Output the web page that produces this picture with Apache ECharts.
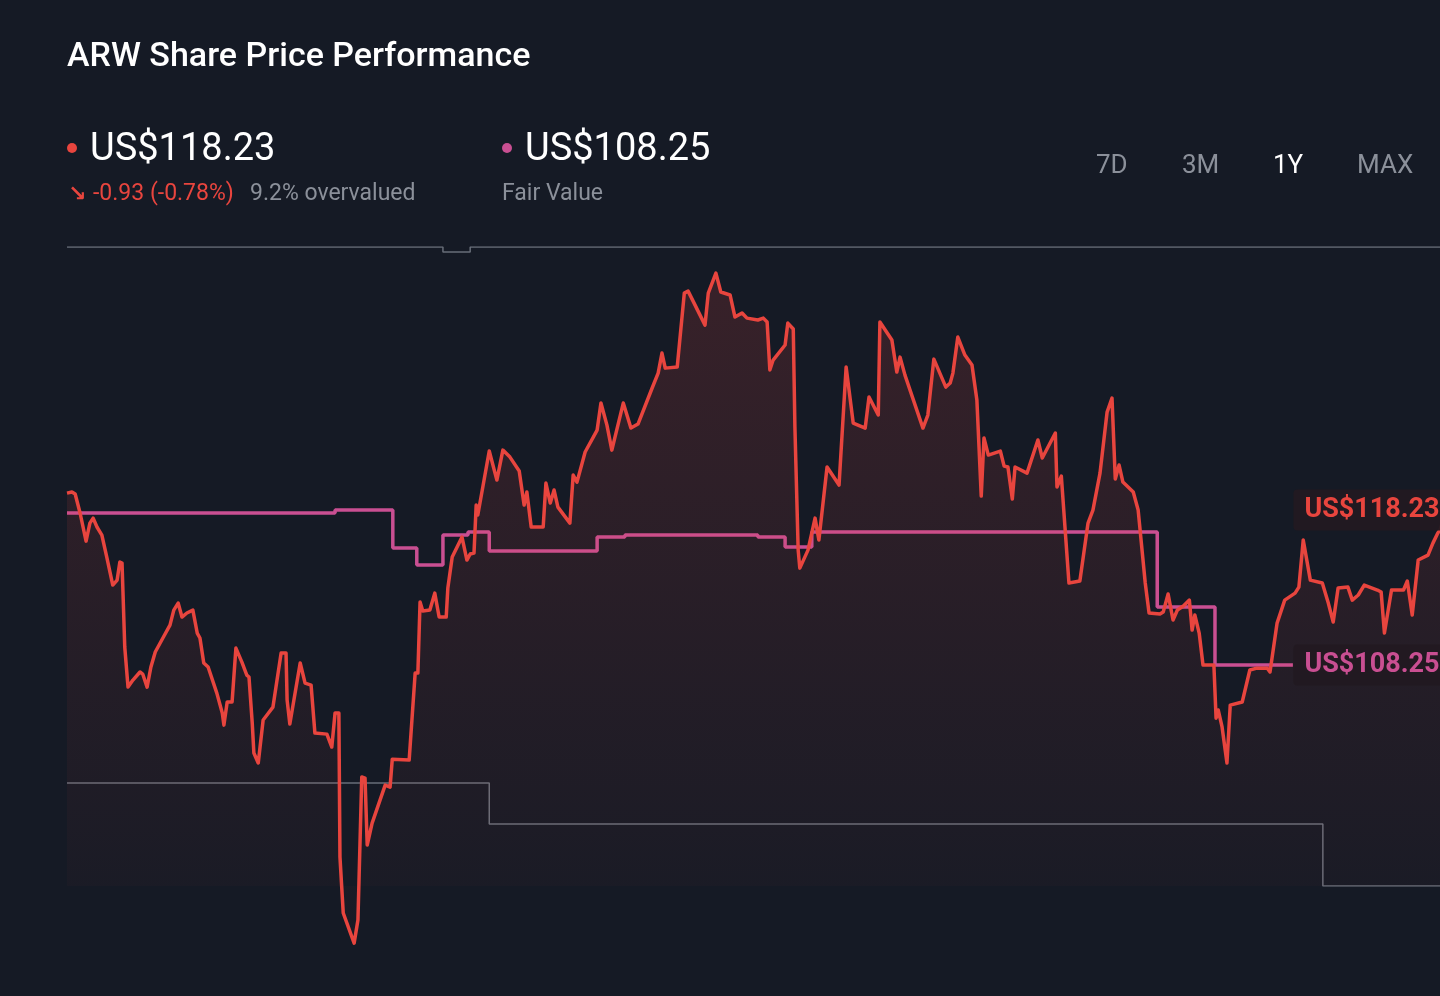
<!DOCTYPE html>
<html lang="en">
<head>
    <meta charset="UTF-8">
    <title>ARW Share Price Performance</title>
    <script src="https://cdn.jsdelivr.net/npm/echarts@6/dist/echarts.min.js"></script>
    <style>
        html, body { margin: 0; padding: 0; background: #151a25; }
        #chartmain { width: 1440px; height: 996px; }
    </style>
</head>
<body>
<div id="chartmain"></div>
<script>
    // trading day index (0 = one year ago) and close price
    var priceDays = [0, 0.9, 1.5, 2.4, 3.5, 4.2, 4.8, 5.5, 6.4, 7.3, 8.4, 9.2, 9.7, 10.1, 10.6, 11.2, 12.1, 13.4, 13.9, 14.7,
        15.4, 16.2, 17.6, 18.9, 19.6, 20.4, 21.1, 22.0, 23.1, 23.9, 24.4, 25.1, 25.9, 27.5, 28.5, 28.8, 29.4, 30.3, 31.0, 32.1,
        33.0, 33.4, 34.0, 34.3, 35.1, 36.0, 36.7, 37.8, 39.3, 40.2, 40.4, 40.9, 42.8, 43.7, 44.8, 45.5, 47.7, 48.6, 49.2, 49.9,
        50.1, 50.7, 52.7, 53.4, 54.1, 54.7, 55.1, 56.0, 58.4, 59.3, 59.7, 62.8, 63.9, 64.4, 64.8, 65.3, 66.6, 67.5, 68.3, 69.6,
        69.9, 70.7, 72.5, 73.4, 74.0, 74.7, 75.1, 75.4, 77.5, 78.9, 80.0, 81.3, 83.0, 83.9, 84.4, 85.2, 87.4, 87.9, 88.7, 89.4,
        90.1, 92.3, 92.9, 93.6, 95.1, 97.3, 98.0, 99.1, 100.0, 102.1, 103.5, 104.8, 107.4, 108.5, 109.2, 109.8, 112.0, 113.3, 114.0, 117.1,
        117.7, 119.1, 120.0, 121.7, 122.6, 123.9, 124.8, 126.8, 127.8, 128.5, 129.0, 129.6, 131.8, 132.3, 133.3, 133.6, 134.2, 134.5, 136.0, 137.3,
        138.0, 139.5, 141.7, 143.0, 144.3, 146.5, 147.2, 148.9, 149.2, 151.4, 152.3, 152.9, 153.8, 157.1, 158.0, 159.1, 161.3, 162.1, 162.6, 163.5,
        164.8, 166.1, 167.0, 167.8, 168.3, 169.1, 171.3, 172.0, 172.7, 173.5, 174.0, 176.2, 178.2, 179.0, 181.4, 181.7, 182.5, 183.9, 185.9, 187.4,
        188.3, 189.6, 190.9, 191.8, 192.4, 193.1, 193.8, 195.7, 196.6, 197.9, 198.6, 200.6, 201.2, 202.1, 203.0, 203.8, 204.9, 206.0, 206.5, 207.0,
        207.8, 208.5, 210.5, 210.9, 211.3, 212.0, 212.9, 213.5, 215.7, 217.1, 218.4, 220.3, 220.8, 222.1, 223.5, 225.4, 226.1, 226.9, 228.2, 230.4,
        231.5, 232.4, 233.3, 235.1, 235.9, 237.0, 238.1, 240.5, 241.2, 241.8, 243.1, 245.3, 246.0, 246.9, 248.0, 249.8, 250.7, 251.6, 252.0, 253.1];
    var priceValues = [119.32, 119.39, 119.26, 118.04, 116.23, 117.39, 117.71, 117.14, 116.62, 115.20, 113.40, 113.72, 114.88, 114.82, 109.41, 106.83, 107.28, 107.80, 107.67, 106.83,
        108.12, 109.09, 109.99, 110.82, 111.79, 112.24, 111.34, 111.60, 111.79, 110.31, 109.99, 108.38, 108.12, 106.44, 105.16, 104.38, 105.87, 105.87, 109.34, 108.44,
        107.60, 107.48, 104.51, 102.58, 101.94, 104.71, 105.03, 105.54, 109.02, 109.02, 105.99, 104.45, 108.38, 107.09, 106.96, 103.87, 103.80, 102.97, 105.16, 105.16,
        95.88, 92.28, 90.34, 91.83, 101.04, 100.97, 96.66, 98.07, 100.52, 100.39, 102.19, 102.13, 107.73, 107.73, 112.31, 111.73, 111.79, 112.88, 111.34, 111.34,
        113.21, 115.20, 116.49, 115.01, 115.40, 115.46, 118.55, 117.91, 122.03, 120.16, 122.09, 121.64, 120.74, 118.55, 119.39, 117.14, 117.14, 119.97, 118.68, 119.52,
        118.42, 117.39, 120.48, 120.03, 121.97, 123.38, 125.12, 123.70, 122.09, 125.12, 123.51, 123.77, 126.09, 127.05, 128.34, 127.37, 127.44, 132.20, 132.33, 130.14,
        132.20, 133.49, 132.27, 132.08, 130.66, 130.92, 130.59, 130.47, 130.59, 130.34, 127.25, 127.89, 128.86, 130.27, 129.89, 123.58, 115.65, 114.49, 115.65, 117.71,
        116.30, 121.00, 119.84, 127.44, 123.83, 123.51, 125.51, 124.35, 130.34, 129.18, 127.12, 128.08, 126.92, 123.51, 124.35, 127.95, 126.15, 126.41, 127.05, 129.37,
        128.21, 127.57, 125.31, 119.13, 122.87, 121.77, 122.03, 121.06, 121.00, 118.94, 121.00, 120.61, 122.74, 121.58, 123.19, 119.71, 120.42, 113.53, 113.66, 117.39,
        118.23, 120.61, 124.54, 125.44, 120.23, 121.13, 120.03, 119.39, 118.23, 113.53, 111.60, 111.53, 111.66, 112.82, 111.15, 111.79, 112.05, 112.43, 110.50, 111.47,
        110.31, 108.25, 108.25, 104.83, 105.35, 104.26, 101.94, 105.67, 105.87, 107.93, 108.05, 108.05, 107.80, 110.95, 112.43, 112.88, 113.27, 116.30, 113.72, 113.53,
        112.24, 111.02, 113.21, 113.27, 112.43, 112.76, 113.40, 113.08, 112.95, 110.31, 113.08, 113.08, 113.66, 111.47, 115.01, 115.33, 116.10, 116.75, 116.94, 118.23];

    // fair value estimate, changes on the listed days
    var fairDays = [0, 49.2, 59.8, 64.2, 69.0, 73.6, 77.5, 97.3, 102.4, 126.8, 131.8, 136.7, 200.1, 210.7, 225.0];
    var fairValues = [118.04, 118.23, 115.78, 114.69, 116.62, 116.81, 115.59, 116.49, 116.62, 116.49, 115.85, 116.81, 111.98, 108.25, 108.25];

    // grey reference bands
    var upperDays = [0, 69.0, 74.0, 252];
    var upperValues = [135.17, 134.85, 135.17, 135.17];
    var lowerDays = [0, 77.5, 230.5, 252];
    var lowerValues = [100.65, 98.01, 94.02, 94.02];

    var lastPrice = 118.23;
    var fairValue = 108.25;
    var labelDay = 225.0;
    var tabs = ['7D', '3M', '1Y', 'MAX'];

    function zip(a, b) {
        var out = [];
        for (var i = 0; i < a.length; i++) out.push([a[i], b[i]]);
        return out;
    }

    var red = '#e8453e';
    var pink = '#c94f92';
    var grey = '#8b909a';
    var font = 'Roboto, "Noto Sans", sans-serif';

    var tabX = [1096, 1182, 1273, 1357];
    var tabGraphics = tabs.map(function (t, i) {
        return {
            type: 'text', left: tabX[i], top: 153,
            style: { text: t, fill: t === '1Y' ? '#ffffff' : grey, font: '26px ' + font }
        };
    });

    var myChart = echarts.init(document.getElementById('chartmain'));
    var option = {
        backgroundColor: '#151a25',
        animation: false,
        grid: { left: 67, right: 0, top: 247, bottom: 110 },
        xAxis: { type: 'value', min: 0, max: 252, show: false },
        yAxis: { type: 'value', min: 94.02, max: 135.17, show: false, splitLine: { show: false } },
        graphic: [
            { type: 'text', left: 67, top: 40, style: { text: 'ARW Share Price Performance', fill: '#ffffff', font: '500 34px ' + font } },
            { type: 'circle', shape: { cx: 72, cy: 148, r: 5 }, style: { fill: red } },
            { type: 'text', left: 90, top: 131, style: { text: 'US$' + lastPrice.toFixed(2), fill: '#ffffff', font: '38px ' + font } },
            { type: 'text', left: 68, top: 184, style: { text: '\u2198', fill: red, font: 'bold 22px "DejaVu Sans", sans-serif' } },
            { type: 'text', left: 93, top: 183, style: { text: '-0.93 (-0.78%)', fill: red, font: '23px ' + font } },
            { type: 'text', left: 250, top: 183, style: { text: '9.2% overvalued', fill: grey, font: '23px ' + font } },
            { type: 'circle', shape: { cx: 507, cy: 148, r: 5 }, style: { fill: pink } },
            { type: 'text', left: 525, top: 131, style: { text: 'US$' + fairValue.toFixed(2), fill: '#ffffff', font: '38px ' + font } },
            { type: 'text', left: 502, top: 183, style: { text: 'Fair Value', fill: grey, font: '23px ' + font } }
        ].concat(tabGraphics),
        series: [
            {
                name: 'upper', type: 'line', step: 'end', symbol: 'none', silent: true, z: 1,
                lineStyle: { color: '#676d78', width: 1.5 },
                data: zip(upperDays, upperValues)
            },
            {
                name: 'lower', type: 'line', step: 'end', symbol: 'none', silent: true, z: 1,
                lineStyle: { color: '#676d78', width: 1.5 },
                data: zip(lowerDays, lowerValues)
            },
            {
                name: 'Fair Value', type: 'line', step: 'end', symbol: 'none', z: 3,
                lineStyle: { color: pink, width: 3.5 },
                data: zip(fairDays, fairValues),
                markPoint: {
                    symbol: 'rect', symbolSize: 1, itemStyle: { color: 'transparent' },
                    label: {
                        show: true, position: 'right', distance: 0,
                        formatter: 'US$' + fairValue.toFixed(2),
                        color: pink, fontSize: 27, fontWeight: 'bold', fontFamily: 'Roboto',
                        backgroundColor: 'rgba(34,25,33,0.95)', borderRadius: 4, padding: [8, 12, 6, 11]
                    },
                    data: [{ coord: [labelDay, fairValue] }]
                }
            },
            {
                name: 'Price', type: 'line', symbol: 'none', clip: false, z: 4,
                lineStyle: { color: red, width: 3.5, join: 'round' },
                areaStyle: {
                    color: new echarts.graphic.LinearGradient(0, 0, 0, 1, [
                        { offset: 0, color: 'rgba(232,69,62,0.24)' },
                        { offset: 0.6, color: 'rgba(232,69,62,0.10)' },
                        { offset: 1, color: 'rgba(232,69,62,0.02)' }
                    ])
                },
                data: zip(priceDays, priceValues),
                markPoint: {
                    symbol: 'rect', symbolSize: 1, itemStyle: { color: 'transparent' },
                    label: {
                        show: true, position: 'right', distance: 0,
                        formatter: 'US$' + lastPrice.toFixed(2),
                        color: red, fontSize: 27, fontWeight: 'bold', fontFamily: 'Roboto',
                        backgroundColor: 'rgba(34,25,33,0.95)', borderRadius: 4, padding: [9, 12, 5, 11]
                    },
                    data: [{ coord: [labelDay, lastPrice] }]
                }
            }
        ]
    };
    myChart.setOption(option);
</script>
</body>
</html>
